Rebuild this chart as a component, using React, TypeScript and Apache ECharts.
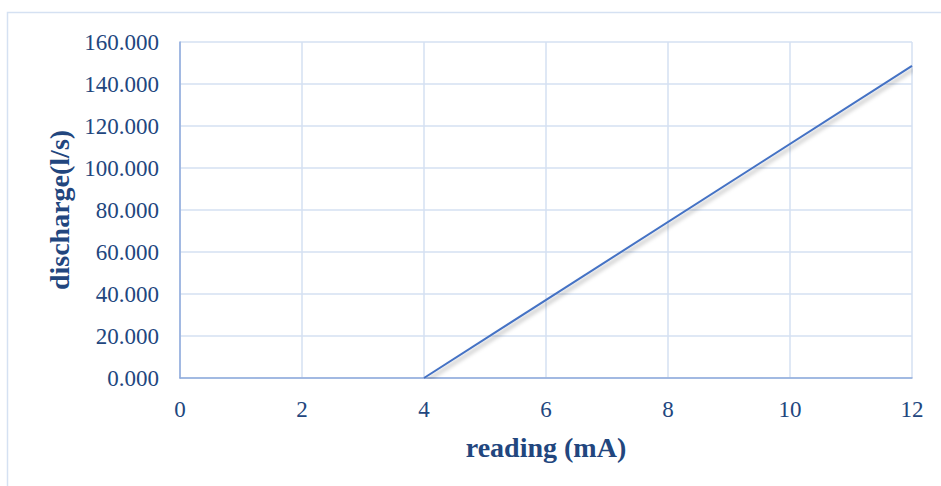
import React, { useEffect, useRef } from "react";
import * as echarts from "echarts";

// Flow meter calibration: current reading (mA) vs discharge (l/s)
const readings: number[] = [4, 12];
const discharge: number[] = [0, 148.6];
const xTicks: number[] = [0, 2, 4, 6, 8, 10, 12];
const yTicks: number[] = [0, 20, 40, 60, 80, 100, 120, 140, 160];

const TEXT = "#22467e";
const FONT = "Times New Roman";

export default function App() {
  const ref = useRef<HTMLDivElement>(null);

  useEffect(() => {
    if (!ref.current) return;
    const chart = echarts.init(ref.current, undefined, { renderer: "svg" });
    const points = readings.map((r, i) => [r, discharge[i]]);
    chart.setOption({
      animation: false,
      backgroundColor: "#ffffff",
      graphic: [
        {
          type: "rect",
          shape: { x: 7.5, y: 12.5, width: 1000, height: 1000 },
          style: { fill: "none", stroke: "#d5e1f2", lineWidth: 1.5 },
          silent: true,
        },
      ],
      grid: { left: 180, right: 29, top: 42, bottom: 108 },
      xAxis: {
        type: "value",
        min: xTicks[0],
        max: xTicks[xTicks.length - 1],
        interval: xTicks[1] - xTicks[0],
        name: "reading (mA)",
        nameLocation: "middle",
        nameGap: 55,
        nameTextStyle: { color: TEXT, fontFamily: FONT, fontSize: 28, fontWeight: "bold" },
        axisLine: { show: true, lineStyle: { color: "#8eaadb", width: 1.5 } },
        axisTick: { show: false },
        axisLabel: { color: TEXT, fontFamily: FONT, fontSize: 23, margin: 20 },
        splitLine: { show: true, lineStyle: { color: "#d5e1f2", width: 1.5 } },
      },
      yAxis: {
        type: "value",
        min: yTicks[0],
        max: yTicks[yTicks.length - 1],
        interval: yTicks[1] - yTicks[0],
        name: "discharge(l/s)",
        nameLocation: "middle",
        nameGap: 104,
        nameRotate: 90,
        nameTextStyle: { color: TEXT, fontFamily: FONT, fontSize: 28, fontWeight: "bold" },
        axisLine: { show: true, lineStyle: { color: "#8eaadb", width: 1.5 } },
        axisTick: { show: false },
        axisLabel: {
          color: TEXT,
          fontFamily: FONT,
          fontSize: 23,
          margin: 21,
          formatter: (v: number) => v.toFixed(3),
        },
        splitLine: { show: true, lineStyle: { color: "#d5e1f2", width: 1.5 } },
      },
      series: [
        {
          type: "line",
          data: points,
          showSymbol: false,
          lineStyle: {
            color: "#4472c4",
            width: 2,
            shadowColor: "rgba(0,0,0,0.35)",
            shadowBlur: 4,
            shadowOffsetX: 2,
            shadowOffsetY: 3,
          },
        },
      ],
    });
    return () => chart.dispose();
  }, []);

  return (
    <div
      ref={ref}
      style={{ position: "fixed", left: 0, top: 0, width: 941, height: 486 }}
    />
  );
}
